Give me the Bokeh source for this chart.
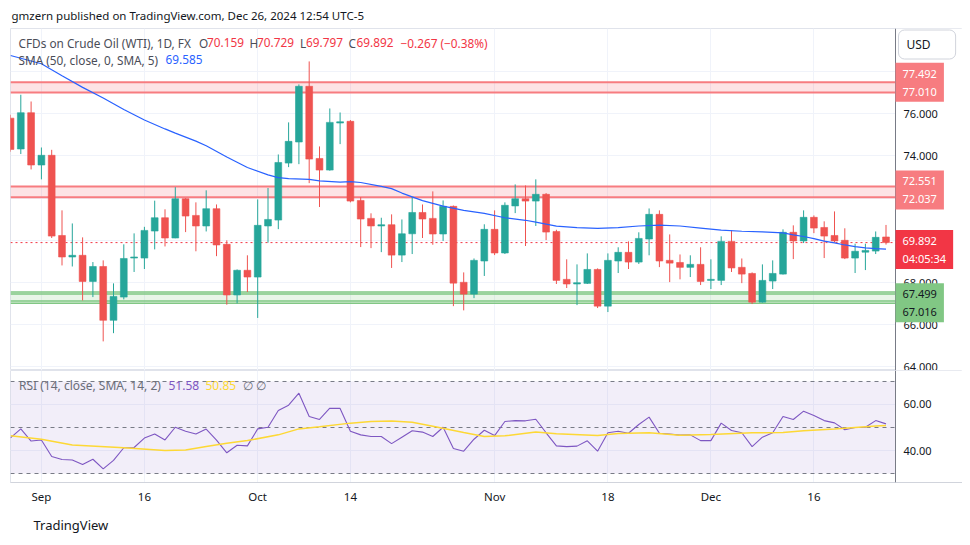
import pandas as pd
from bokeh.plotting import figure
from bokeh.layouts import column
from bokeh.models import (ColumnDataSource, Range1d, FixedTicker, Span, BoxAnnotation,
                          Label, NumeralTickFormatter, Title)
from bokeh.embed import file_html
from bokeh.resources import INLINE

# ---------------- data ----------------
dates = [d.strftime("%Y-%m-%d") for d in pd.bdate_range("2024-08-28", "2024-12-26")
         if d.strftime("%Y-%m-%d") != "2024-12-25"]

opens = [75.79, 74.33, 76.05, 73.57, 74.03, 70.23, 69.21, 69.29, 68.05, 68.76,
         66.21, 67.31, 69.16, 69.16, 70.44, 71.07, 70.11, 71.97, 71.18, 70.68,
         71.50, 69.81, 67.41, 68.58, 68.26, 70.68, 70.96, 73.66, 74.66, 77.30,
         73.88, 73.33, 75.56, 75.64, 71.89, 71.04, 70.68, 70.74, 69.30, 70.31,
         71.32, 71.04, 70.30, 71.61, 68.01, 67.45, 69.02, 70.52, 69.40, 71.63,
         71.97, 71.86, 72.18, 70.42, 68.15, 67.93, 67.96, 68.62, 66.88, 69.02,
         69.43, 68.97, 70.06, 71.23, 69.05, 68.95, 68.72, 68.86, 68.10, 68.10,
         69.95, 68.72, 68.43, 67.07, 68.07, 68.40, 70.38, 69.97, 71.09, 70.61,
         70.23, 70.00, 69.16, 69.44, 69.49, 70.159]
highs = [75.95, 76.90, 76.58, 74.40, 74.29, 71.42, 70.80, 70.14, 68.97, 69.05,
         67.96, 69.81, 70.33, 70.64, 71.88, 71.47, 72.52, 72.00, 71.80, 72.37,
         71.70, 70.00, 68.62, 69.29, 71.94, 72.48, 74.07, 75.59, 77.39, 78.48,
         74.45, 76.25, 76.06, 75.70, 72.05, 71.28, 71.07, 71.23, 70.99, 72.05,
         71.70, 72.32, 71.89, 71.65, 68.48, 69.14, 70.76, 71.42, 71.80, 72.65,
         72.60, 72.89, 72.24, 70.50, 69.10, 68.86, 69.38, 68.67, 69.38, 69.67,
         69.95, 70.38, 71.51, 71.42, 70.28, 69.33, 69.29, 69.67, 69.10, 70.19,
         70.47, 69.14, 68.48, 68.86, 69.05, 70.52, 70.71, 71.42, 71.18, 70.90,
         71.37, 70.57, 69.84, 69.84, 70.42, 70.729]
lows = [74.20, 74.09, 73.36, 72.89, 70.11, 68.81, 68.76, 67.15, 67.31, 65.21,
        65.60, 67.20, 68.50, 68.64, 69.57, 69.71, 70.10, 70.39, 69.48, 70.42,
        69.25, 66.95, 67.01, 67.55, 66.32, 69.89, 70.53, 73.47, 73.61, 72.71,
        71.58, 73.30, 74.56, 71.80, 69.68, 69.63, 69.44, 68.69, 68.97, 69.35,
        70.11, 69.79, 69.97, 66.88, 66.68, 67.26, 68.31, 69.30, 69.35, 71.29,
        69.73, 70.68, 70.01, 67.93, 67.74, 66.93, 67.93, 66.79, 66.60, 68.45,
        68.64, 68.88, 69.29, 68.73, 68.02, 68.15, 68.26, 67.88, 67.69, 67.88,
        68.50, 67.97, 66.98, 67.05, 67.69, 68.38, 69.11, 69.87, 70.34, 69.16,
        69.90, 69.11, 68.45, 68.59, 69.35, 69.797]
closes = [74.31, 76.05, 73.57, 74.03, 70.20, 69.21, 69.29, 68.05, 68.76, 66.21,
          67.34, 69.14, 69.21, 70.47, 71.07, 70.11, 71.97, 71.15, 70.68, 71.50,
          69.78, 67.41, 68.58, 68.26, 70.71, 70.99, 73.69, 74.69, 77.30, 73.85,
          73.33, 75.59, 75.62, 71.86, 71.01, 70.68, 70.74, 69.30, 70.31, 71.32,
          71.01, 70.30, 71.61, 67.97, 67.45, 69.05, 70.52, 69.40, 71.66, 71.97,
          71.86, 72.18, 70.39, 68.10, 67.93, 67.99, 68.62, 66.88, 69.05, 69.43,
          68.97, 70.09, 71.23, 69.02, 68.92, 68.72, 68.86, 68.05, 68.15, 69.95,
          68.69, 68.40, 67.07, 68.10, 68.43, 70.38, 69.97, 71.09, 70.58, 70.20,
          69.97, 69.16, 69.48, 69.52, 70.14, 69.892]

sma_idx = [0, 3, 5, 7, 9, 11, 13, 15, 16, 18, 19, 21, 23, 25, 26, 27, 29, 30, 32, 33,
           34, 36, 37, 38, 40, 42, 44, 46, 48, 50, 51, 53, 55, 57, 59, 61, 63, 65, 67,
           69, 71, 73, 74, 75, 76, 77, 78, 79, 80, 81, 82, 83, 84, 85]
sma_val = [78.76, 78.37, 77.80, 77.25, 76.75, 76.20, 75.70, 75.28, 75.08, 74.70,
           74.48, 73.95, 73.45, 73.10, 72.97, 72.92, 72.89, 72.82, 72.76, 72.78,
           72.74, 72.56, 72.45, 72.24, 71.88, 71.62, 71.42, 71.28, 71.07, 70.95,
           70.86, 70.67, 70.60, 70.57, 70.60, 70.68, 70.72, 70.68, 70.58, 70.48,
           70.43, 70.40, 70.38, 70.35, 70.26, 70.18, 70.08, 69.96, 69.88, 69.78,
           69.70, 69.64, 69.61, 69.585]

rsi = [45.5, 49.4, 44.1, 44.6, 37.4, 36.1, 35.9, 33.9, 36.2, 32.0, 35.7, 41.2, 41.3,
       45.4, 47.2, 44.6, 50.1, 48.4, 47.2, 49.3, 44.5, 39.0, 42.3, 42.0, 49.4, 50.1,
       57.4, 59.7, 64.9, 54.8, 53.5, 58.4, 58.3, 48.4, 46.8, 46.1, 46.1, 43.0, 45.8,
       48.6, 48.0, 46.1, 50.1, 40.9, 39.7, 44.9, 48.8, 46.5, 52.6, 53.0, 52.9, 53.6,
       47.7, 42.0, 41.7, 41.9, 44.2, 39.7, 47.7, 48.4, 47.5, 51.3, 54.5, 47.5, 47.2,
       46.7, 46.8, 44.3, 44.3, 51.9, 48.7, 47.7, 41.7, 45.8, 47.7, 54.8, 53.5, 57.1,
       55.2, 53.0, 52.0, 49.0, 50.0, 50.1, 53.0, 51.58]
rsi_sma_idx = [0, 3, 6, 11, 15, 17, 19, 21, 23, 26, 28, 30, 33, 35, 37, 39, 41, 44,
               46, 48, 51, 53, 57, 59, 62, 65, 68, 72, 75, 77, 80, 84, 85]
rsi_sma_val = [46.4, 44.9, 42.4, 41.2, 40.0, 40.2, 41.7, 43.2, 44.3, 46.8, 49.4,
               50.3, 51.9, 52.6, 52.8, 52.3, 50.5, 47.8, 46.1, 46.4, 48.0, 47.3,
               46.5, 47.4, 47.7, 46.6, 47.0, 47.7, 47.8, 48.6, 49.4, 50.6, 50.85]

tick_dates = ["2024-09-02", "2024-09-16", "2024-10-01", "2024-10-14",
              "2024-11-01", "2024-11-18", "2024-12-02", "2024-12-16"]
tick_labels = ["Sep", "16", "Oct", "14", "Nov", "18", "Dec", "16"]
price_ticks = [64, 66, 68, 74, 76]
grid_prices = [64, 66, 68, 70, 72, 74, 76, 78]
rsi_ticks = [40, 60]
rsi_bands = [30, 50, 70]

resist_high = [77.010, 77.492]
resist_mid = [72.037, 72.551]
support = [67.016, 67.499]
support_lines = [67.55, 67.45, 67.12, 67.016]
last_price = 69.892
countdown = "04:05:34"

# ---------------- styling / layout ----------------
FONT = "Noto Sans"
UP, DOWN = "#26a69a", "#ef5350"
GRID = "#f0f3fa"
TXT = "#131722"
BAR_PX = 10.3
X_END = 952 / BAR_PX          # frame spans the price scale as well
SCALE_X = 885 / BAR_PX        # where the price scale starts

x = list(range(len(dates)))
tick_idx = [dates.index(d) for d in tick_dates]
colors = [UP if c >= o else DOWN for o, c in zip(opens, closes)]
src = ColumnDataSource(dict(
    x=x, h=highs, l=lows,
    top=[max(o, c) for o, c in zip(opens, closes)],
    bottom=[min(o, c) for o, c in zip(opens, closes)],
    color=colors))

xr = Range1d(0, X_END)


def style_axis(a, size="11px"):
    a.major_tick_out = 0
    a.major_tick_in = 0
    a.minor_tick_out = 0
    a.minor_tick_in = 0
    a.major_tick_line_color = None
    a.minor_tick_line_color = None
    a.axis_line_color = "#787b86"
    a.major_label_text_font = FONT
    a.major_label_text_font_size = size
    a.major_label_text_color = TXT


p = figure(frame_width=952, frame_height=342, min_border_left=10, min_border_right=0,
           min_border_top=28, min_border_bottom=0, x_range=xr,
           y_range=Range1d(63.83, 80.04), x_axis_location=None, y_axis_location="right",
           toolbar_location=None, output_backend="svg",
           background_fill_color="white", border_fill_color="white",
           outline_line_color="#e0e3eb")
p.title.text = "gmzern published on TradingView.com, Dec 26, 2024 12:54 UTC-5"
p.title.align = "left"
p.title.offset = 1
p.title.standoff = 11
p.title.text_font = FONT
p.title.text_font_size = "11.5px"
p.title.text_font_style = "normal"
p.title.text_color = TXT

p.xgrid.ticker = FixedTicker(ticks=tick_idx)
p.ygrid.ticker = FixedTicker(ticks=grid_prices)
p.xgrid.grid_line_color = GRID
p.ygrid.grid_line_color = GRID

ax = p.yaxis[0]
ax.ticker = FixedTicker(ticks=price_ticks)
ax.formatter = NumeralTickFormatter(format="0.000")
ax.fixed_location = SCALE_X
style_axis(ax)
ax.major_label_standoff = 8

# zones
for lo, hi in (resist_high, resist_mid):
    p.add_layout(BoxAnnotation(bottom=lo, top=hi, fill_color="#f23645", fill_alpha=0.14,
                               line_color=None, level="underlay"))
    for lv in (lo, hi):
        p.add_layout(Span(location=lv, dimension="width", line_color="#f77c80",
                          line_width=2, level="underlay"))
p.add_layout(BoxAnnotation(bottom=support[0], top=support_lines[0], fill_color="#4caf50",
                           fill_alpha=0.13, line_color=None, level="underlay"))
for lv in support_lines:
    p.add_layout(Span(location=lv, dimension="width", line_color="#81c784",
                      line_width=1.5, level="underlay"))
p.add_layout(Span(location=last_price, dimension="width", line_color="#f23645",
                  line_width=1, line_dash="2 3", level="underlay"))
# blank price-scale area
p.add_layout(BoxAnnotation(left=SCALE_X, fill_color="white", fill_alpha=1,
                           line_color=None, level="underlay"))

# candles
p.segment(x0="x", y0="l", x1="x", y1="h", line_color="color", line_width=1, source=src)
p.vbar(x="x", width=0.66, top="top", bottom="bottom", fill_color="color",
       line_color="color", line_width=0.6, source=src)
p.line(sma_idx, sma_val, line_color="#2962ff", line_width=1.2)


def lab(fig, page_x, y, text, color, size="11.8px", y_units="screen", frame_bottom=370,
        **kw):
    yy = (frame_bottom - y) if y_units == "screen" else y
    L = Label(x=page_x - 10, y=yy, x_units="screen", y_units=y_units, text=text,
              text_color=color, text_font=FONT, text_font_size=size,
              text_baseline="middle", **kw)
    fig.add_layout(L)
    return L


LG = "#4a4d57"
RED = "#f23645"
lab(p, 18, 42, "CFDs on Crude Oil (WTI), 1D, FX", LG)
for px, letter, vx, val in [(198.5, "O", 206.5, "70.159"), (249, "H", 256.5, "70.729"),
                            (299.5, "L", 305.5, "69.797"), (348, "C", 356, "69.892")]:
    lab(p, px, 42, letter, LG)
    lab(p, vx, 42, val, RED)
lab(p, 400, 42, "\u22120.267 (\u22120.38%)", RED)
lab(p, 18, 59, "SMA (50, close, 0, SMA, 5)", LG)
lab(p, 165, 59, "69.585", "#2962ff")


def pad(L, value_):
    try:
        L.padding = value_
    except Exception:
        try:
            L.padding = 4
        except Exception:
            pass


# price scale boxes
boxes = [
    ((resist_high[0] + resist_high[1]) / 2, 5, "%.3f\n%.3f" % (resist_high[1], resist_high[0]), "#f77c80", "white"),
    ((resist_mid[0] + resist_mid[1]) / 2, 2, "%.3f\n%.3f" % (resist_mid[1], resist_mid[0]), "#f77c80", "white"),
    (last_price, -7, "%.3f\n%s" % (last_price, countdown), "#f23645", "white"),
    ((support[0] + support[1]) / 2, -4.5, "%.3f\n%.3f" % (support[1], support[0]), "#81c784", TXT),
]
for yv, yo, txt, bg, fg in boxes:
    L = lab(p, 895, yv, txt, fg, "11px", y_units="data", y_offset=yo,
            background_fill_color=bg)
    pad(L, (7, 3))

usd = lab(p, 898, 44, "USD", TXT, "12px", background_fill_color="white",
          border_line_color="#d1d4dc", border_line_width=1)
pad(usd, (8, 25, 6, 6))
try:
    usd.border_radius = 6
except Exception:
    pass

# ---------------- RSI pane ----------------
r = figure(frame_width=952, frame_height=112, min_border_left=10, min_border_right=0,
           min_border_top=0, min_border_bottom=55, x_range=xr,
           y_range=Range1d(26.09, 74.78), y_axis_location="right",
           toolbar_location=None, output_backend="svg",
           background_fill_color="white", border_fill_color="white",
           outline_line_color="#e0e3eb")
r.xgrid.ticker = FixedTicker(ticks=tick_idx)
r.ygrid.ticker = FixedTicker(ticks=rsi_ticks)
r.xgrid.grid_line_color = GRID
r.ygrid.grid_line_color = GRID
r.add_layout(BoxAnnotation(bottom=rsi_bands[0], top=rsi_bands[2], fill_color="#7e57c2",
                           fill_alpha=0.1, line_color=None, level="underlay"))
for lv in rsi_bands:
    r.add_layout(Span(location=lv, dimension="width", line_color="#787b86", line_width=1,
                      line_dash="4 4", level="underlay"))
r.add_layout(BoxAnnotation(left=SCALE_X, fill_color="white", fill_alpha=1,
                           line_color=None, level="underlay"))
r.line(x, rsi, line_color="#7e57c2", line_width=1.1)
r.line(rsi_sma_idx, rsi_sma_val, line_color="#fdd835", line_width=1.5)

ra = r.yaxis[0]
ra.ticker = FixedTicker(ticks=rsi_ticks)
ra.formatter = NumeralTickFormatter(format="0.00")
ra.fixed_location = SCALE_X
style_axis(ra)
ra.major_label_standoff = 8
xa = r.xaxis[0]
xa.ticker = FixedTicker(ticks=tick_idx)
xa.major_label_overrides = {i: t for i, t in zip(tick_idx, tick_labels)}
style_axis(xa, "11.5px")
xa.major_label_standoff = 6
xa.axis_line_color = "#d1d4dc"

lab(r, 18.5, 385, "RSI (14, close, SMA, 14, 2)", "#6a6d78", "12px", frame_bottom=482)
lab(r, 168, 385, "51.58", "#7e57c2", "12px", frame_bottom=482)
lab(r, 205, 385, "50.85", "#fdd835", "12px", frame_bottom=482)
lab(r, 242, 385, "\u2205", "#6a6d78", "12px", frame_bottom=482)
lab(r, 255, 385, "\u2205", "#6a6d78", "12px", frame_bottom=482)

logo = Title(text="TradingView", align="left", offset=23, standoff=14,
             text_font=FONT, text_font_size="13px", text_font_style="normal",
             text_color=TXT)
r.add_layout(logo, "below")

layout = column(p, r, spacing=0)
open("out.html", "w").write(file_html(layout, INLINE))
